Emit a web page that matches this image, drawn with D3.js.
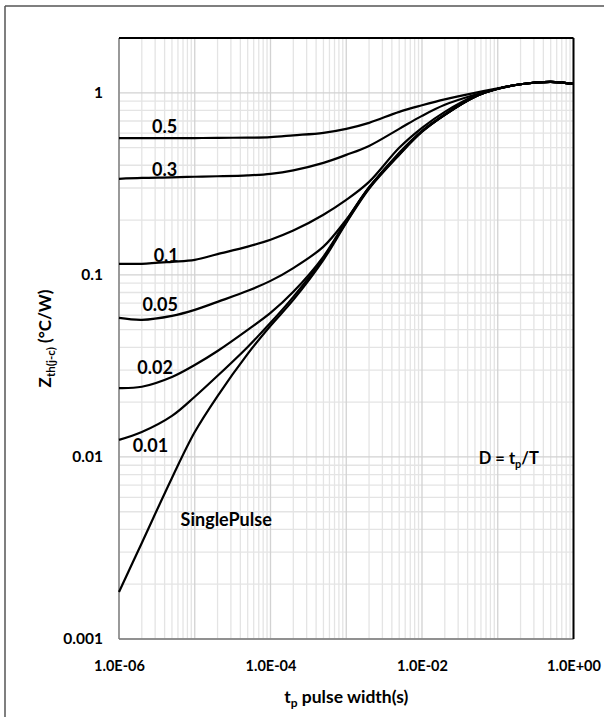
<!DOCTYPE html>
<html>
<head>
<meta charset="utf-8">
<script src="https://cdn.jsdelivr.net/npm/d3@7"></script>
<style>
  body { margin: 0; background: #fff; }
  text { font-family: Lato, "Open Sans", sans-serif; font-weight: bold; fill: #000; }
</style>
</head>
<body>
<svg id="chart" width="604" height="717"></svg>
<script>
const pulseWidths = [1e-6, 2e-6, 5e-6, 1e-5, 2e-5, 5e-5, 1e-4, 2e-4, 5e-4, 1e-3,
  2e-3, 5e-3, 1e-2, 2e-2, 5e-2, 1e-1, 2e-1, 5e-1, 1]

// Zth(j-c) in °C/W for each duty cycle
const zD05 = [0.564, 0.564, 0.564, 0.564, 0.566, 0.567, 0.571, 0.584, 0.603, 0.634,
  0.684, 0.786, 0.854, 0.921, 1.0, 1.058, 1.114, 1.149, 1.12]
const zD03 = [0.337, 0.341, 0.343, 0.346, 0.348, 0.352, 0.359, 0.375, 0.412, 0.456,
  0.511, 0.634, 0.747, 0.859, 0.975, 1.052, 1.114, 1.149, 1.12]
const zD01 = [0.115, 0.115, 0.118, 0.121, 0.130, 0.143, 0.156, 0.175, 0.214, 0.258,
  0.324, 0.499, 0.642, 0.786, 0.963, 1.052, 1.114, 1.149, 1.12]
const zD005 = [0.058, 0.0566, 0.0595, 0.0642, 0.0711, 0.0817, 0.0927, 0.109, 0.143, 0.201,
  0.301, 0.468, 0.618, 0.762, 0.951, 1.052, 1.114, 1.149, 1.12]
const zD002 = [0.0239, 0.0243, 0.0275, 0.032, 0.0382, 0.0499, 0.0618, 0.0807, 0.126, 0.198,
  0.303, 0.462, 0.615, 0.757, 0.951, 1.052, 1.114, 1.149, 1.12]
const zD001 = [0.0124, 0.0137, 0.0168, 0.0214, 0.0279, 0.0402, 0.0545, 0.0757, 0.124, 0.195,
  0.301, 0.459, 0.611, 0.757, 0.951, 1.052, 1.114, 1.149, 1.12]
const zSingle = [0.00181, 0.00337, 0.00767, 0.0137, 0.0216, 0.0368, 0.0525, 0.0729, 0.121, 0.193,
  0.297, 0.456, 0.611, 0.757, 0.951, 1.052, 1.114, 1.149, 1.12]

const seriesNames = ['0.5', '0.3', '0.1', '0.05', '0.02', '0.01', 'SinglePulse']
const seriesValues = [zD05, zD03, zD01, zD005, zD002, zD001, zSingle]

const xTicks = [1e-6, 1e-4, 1e-2, 1]
const yTicks = [0.001, 0.01, 0.1, 1]

const svg = d3.select('#chart')
const margin = {left: 119, top: 38, right: 30.5, bottom: 78}
const width = 604 - margin.left - margin.right
const height = 717 - margin.top - margin.bottom

// outer frame (left and top edges of the page box)
svg.append('line').attr('x1', 5).attr('x2', 5).attr('y1', 6).attr('y2', 717)
  .attr('stroke', '#555').attr('stroke-width', 1.5)
svg.append('line').attr('x1', 5).attr('x2', 604).attr('y1', 6).attr('y2', 6)
  .attr('stroke', '#555').attr('stroke-width', 1.5)

const g = svg.append('g').attr('transform', `translate(${margin.left},${margin.top})`)

const x = d3.scaleLog().domain([1e-6, 1]).range([0, width])
const y = d3.scaleLog().domain([0.001, 2]).range([height, 0])

const isMajor = v => Math.abs(Math.log10(v) - Math.round(Math.log10(v))) < 1e-9

// grid: minor lines first, decades on top
const gridX = x.ticks()
const gridY = y.ticks()
g.append('g').selectAll('line')
  .data(gridX.filter(v => !isMajor(v)))
  .join('line')
  .attr('x1', d => x(d)).attr('x2', d => x(d))
  .attr('y1', 0).attr('y2', height)
  .attr('stroke', '#e4e4e4').attr('stroke-width', 1.3)
g.append('g').selectAll('line')
  .data(gridY.filter(v => !isMajor(v)))
  .join('line')
  .attr('y1', d => y(d)).attr('y2', d => y(d))
  .attr('x1', 0).attr('x2', width)
  .attr('stroke', '#e4e4e4').attr('stroke-width', 1.3)
g.append('g').selectAll('line')
  .data(gridX.filter(isMajor))
  .join('line')
  .attr('x1', d => x(d)).attr('x2', d => x(d))
  .attr('y1', 0).attr('y2', height)
  .attr('stroke', '#d2d2d2').attr('stroke-width', 1.3)
g.append('g').selectAll('line')
  .data(gridY.filter(isMajor))
  .join('line')
  .attr('y1', d => y(d)).attr('y2', d => y(d))
  .attr('x1', 0).attr('x2', width)
  .attr('stroke', '#d2d2d2').attr('stroke-width', 1.3)

// axes
const xFormat = v => {
  const e = Math.round(Math.log10(v))
  return '1.0E' + (e < 0 ? '-' : '+') + String(Math.abs(e)).padStart(2, '0')
}
const xAxis = g.append('g')
  .attr('transform', `translate(0,${height})`)
  .call(d3.axisBottom(x).tickValues(xTicks).tickFormat(xFormat).tickSize(0).tickPadding(22))
xAxis.select('.domain').remove()
xAxis.selectAll('text')
  .attr('font-family', 'Lato').attr('font-size', 14.5).attr('font-weight', 'bold').attr('fill', '#000')

const yAxis = g.append('g')
  .call(d3.axisLeft(y).tickValues(yTicks).tickFormat(d => String(d)).tickSize(0).tickPadding(16))
yAxis.select('.domain').remove()
yAxis.selectAll('text')
  .attr('font-family', 'Lato').attr('font-size', 15.5).attr('font-weight', 'bold').attr('fill', '#000')

// plot border: grey axis lines, black top and right
g.append('line').attr('x1', 0).attr('x2', 0).attr('y1', 0).attr('y2', height)
  .attr('stroke', '#888').attr('stroke-width', 1.6)
g.append('line').attr('x1', 0).attr('x2', width).attr('y1', height).attr('y2', height)
  .attr('stroke', '#777').attr('stroke-width', 1.6)
g.append('line').attr('x1', 0).attr('x2', width).attr('y1', 0).attr('y2', 0)
  .attr('stroke', '#000').attr('stroke-width', 2)
g.append('line').attr('x1', width).attr('x2', width).attr('y1', 0).attr('y2', height)
  .attr('stroke', '#000').attr('stroke-width', 2)

// curves (smooth spline through the read points)
const line = d3.line()
  .x(d => x(d[0]))
  .y(d => y(d[1]))
  .curve(d3.curveCatmullRom.alpha(0.5))

g.append('g').selectAll('path')
  .data(seriesValues)
  .join('path')
  .attr('d', vals => line(pulseWidths.map((t, i) => [t, vals[i]])))
  .attr('fill', 'none')
  .attr('stroke', '#000')
  .attr('stroke-width', 2.2)

// curve labels, anchored in data units
const labelAnchors = [
  [4.0e-6, 0.65], [4.0e-6, 0.378], [4.2e-6, 0.127], [3.5e-6, 0.0684],
  [3.0e-6, 0.0308], [2.6e-6, 0.0116], [2.6e-5, 0.00451]
]
g.append('g').selectAll('text')
  .data(seriesNames)
  .join('text')
  .attr('x', (d, i) => x(labelAnchors[i][0]))
  .attr('y', (d, i) => y(labelAnchors[i][1]))
  .attr('dy', '0.35em')
  .attr('text-anchor', 'middle')
  .attr('font-size', 18)
  .text(d => d)

const dLabel = g.append('text')
  .attr('x', x(0.14)).attr('y', y(0.00987)).attr('dy', '0.35em')
  .attr('text-anchor', 'middle').attr('font-size', 16.5)
dLabel.append('tspan').text('D = t')
dLabel.append('tspan').attr('font-size', 11).attr('dy', 4).text('p')
dLabel.append('tspan').attr('dy', -4).text('/T')

// axis titles
const xTitle = svg.append('text')
  .attr('x', margin.left + width / 2).attr('y', 703)
  .attr('text-anchor', 'middle').attr('font-size', 17.5)
xTitle.append('tspan').text('t')
xTitle.append('tspan').attr('font-size', 12).attr('dy', 4).text('p')
xTitle.append('tspan').attr('dy', -4).text(' pulse width(s)')

const yTitle = svg.append('text')
  .attr('transform', `translate(51,${margin.top + height / 2}) rotate(-90)`)
  .attr('text-anchor', 'middle').attr('font-size', 17)
yTitle.append('tspan').text('Z')
yTitle.append('tspan').attr('font-size', 11.5).attr('dy', 4).text('th(j-c)')
yTitle.append('tspan').attr('dy', -4).text(' (°C/W)')
</script>
</body>
</html>
